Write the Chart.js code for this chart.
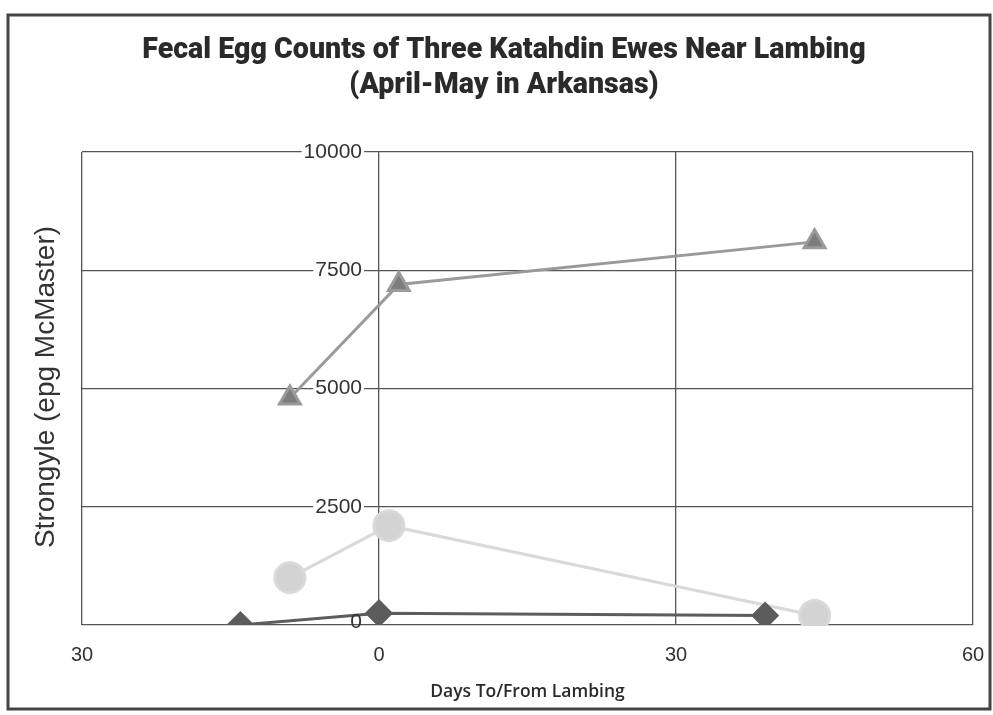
<!DOCTYPE html>
<html>
<head>
<meta charset="utf-8">
<script src="https://cdn.jsdelivr.net/npm/chart.js@4.4.0/dist/chart.umd.min.js"></script>
<style>
  html, body { margin: 0; padding: 0; background: #fff; }
  #wrap { width: 993px; height: 715px; }
</style>
</head>
<body>
<div id="wrap"><canvas id="eggChart" width="993" height="715"></canvas></div>
<script>
// data
var ewe1Days = [-14, 0, 39];
var ewe1Epg = [0, 250, 200];
var ewe2Days = [-9, 1, 44];
var ewe2Epg = [1000, 2100, 200];
var ewe3Days = [-9, 2, 44];
var ewe3Epg = [4800, 7200, 8100];
var xTicks = [-30, 0, 30, 60];
var yTicks = [0, 2500, 5000, 7500, 10000];
var titleLines = ['Fecal Egg Counts of Three Katahdin Ewes Near Lambing', '(April-May in Arkansas)'];

function pts(xs, ys) {
    return xs.map(function (x, i) { return { x: x, y: ys[i] }; });
}

var tickFont = '21px "Liberation Sans", Arial, sans-serif';

// frame, title, y tick labels left of the x=0 line, rotated y title
var framePlugin = {
    id: 'frame',
    beforeDraw: function (chart) {
        var c = chart.ctx;
        c.save();
        c.fillStyle = '#fff';
        c.fillRect(0, 0, chart.width, chart.height);
        c.strokeStyle = '#444';
        c.lineWidth = 3;
        c.strokeRect(8, 15, 982, 694);
        c.restore();
    },
    afterDatasetsDraw: function (chart) {
        var c = chart.ctx;
        var xs = chart.scales.x, ys = chart.scales.y;
        var x0 = xs.getPixelForValue(0) - 17;
        c.save();
        c.font = tickFont;
        c.textAlign = 'right';
        c.textBaseline = 'middle';
        ys.ticks.forEach(function (t) {
            var y = ys.getPixelForValue(t.value);
            var label = String(t.value);
            var w = c.measureText(label).width;
            if (t.value !== 0) {
                c.fillStyle = '#fff';
                c.fillRect(x0 - w - 2, y - 8, w + 4, 16);
            }
            c.fillStyle = '#333';
            c.fillText(label, x0, t.value === 0 ? y - 3 : y);
        });
        c.restore();

        c.save();
        c.font = '900 28.6px Roboto, "Liberation Sans", Arial, sans-serif';
        c.fillStyle = '#2a2a2a';
        c.textAlign = 'center';
        c.textBaseline = 'middle';
        c.fillText(titleLines[0], 504, 51);
        c.fillText(titleLines[1], 504, 86);
        c.restore();

        c.save();
        c.translate(46, 387);
        c.rotate(-Math.PI / 2);
        c.font = '28px "Liberation Sans", Arial, sans-serif';
        c.fillStyle = '#333';
        c.textAlign = 'center';
        c.textBaseline = 'middle';
        c.fillText('Strongyle (epg McMaster)', 0, 0);
        c.restore();
    }
};

var ctx = document.getElementById('eggChart').getContext('2d');
var myChart = new Chart(ctx, {
    type: 'scatter',
    data: {
        datasets: [{
            label: 'Ewe 1',
            data: pts(ewe1Days, ewe1Epg),
            showLine: true,
            borderColor: '#5c5c5c',
            backgroundColor: '#5c5c5c',
            borderWidth: 3,
            pointStyle: 'rectRot',
            pointRadius: 12,
            pointHoverRadius: 12
        }, {
            label: 'Ewe 2',
            data: pts(ewe2Days, ewe2Epg),
            showLine: true,
            borderColor: '#d9d9d9',
            backgroundColor: '#d3d3d3',
            borderWidth: 3,
            pointStyle: 'circle',
            pointRadius: 15,
            pointHoverRadius: 15
        }, {
            label: 'Ewe 3',
            data: pts(ewe3Days, ewe3Epg),
            showLine: true,
            borderColor: '#9a9a9a',
            backgroundColor: '#7d7d7d',
            borderWidth: 3,
            pointStyle: 'triangle',
            pointRadius: 12,
            pointHoverRadius: 12
        }]
    },
    options: {
        responsive: false,
        animation: false,
        layout: {
            padding: { left: 82, right: 20, top: 152, bottom: 12 }
        },
        plugins: {
            legend: { display: false },
            tooltip: { enabled: false },
            title: { display: false }
        },
        scales: {
            x: {
                type: 'linear',
                min: -30,
                max: 60,
                afterBuildTicks: function (axis) {
                    axis.ticks = xTicks.map(function (v) { return { value: v }; });
                },
                afterFit: function (axis) {
                    axis.paddingLeft = 0;
                    axis.paddingRight = 0;
                },
                grid: { color: '#555', lineWidth: 1.3, drawTicks: false },
                border: { display: false },
                ticks: {
                    color: '#333',
                    padding: 18,
                    font: { family: '"Liberation Sans", Arial, sans-serif', size: 20 },
                    callback: function (v) { return String(Math.abs(v)); }
                },
                title: {
                    display: true,
                    text: 'Days To/From Lambing',
                    color: '#2a2a2a',
                    font: { family: '"Open Sans", "Liberation Sans", Arial, sans-serif', size: 17.5, weight: '600' },
                    padding: { top: -3, bottom: 0 }
                }
            },
            y: {
                type: 'linear',
                position: { x: 0 },
                min: 0,
                max: 10000,
                afterBuildTicks: function (axis) {
                    axis.ticks = yTicks.map(function (v) { return { value: v }; });
                },
                grid: { color: '#555', lineWidth: 1.3, drawTicks: false },
                border: { display: false },
                ticks: { display: false }
            }
        }
    },
    plugins: [framePlugin]
});
</script>
</body>
</html>
